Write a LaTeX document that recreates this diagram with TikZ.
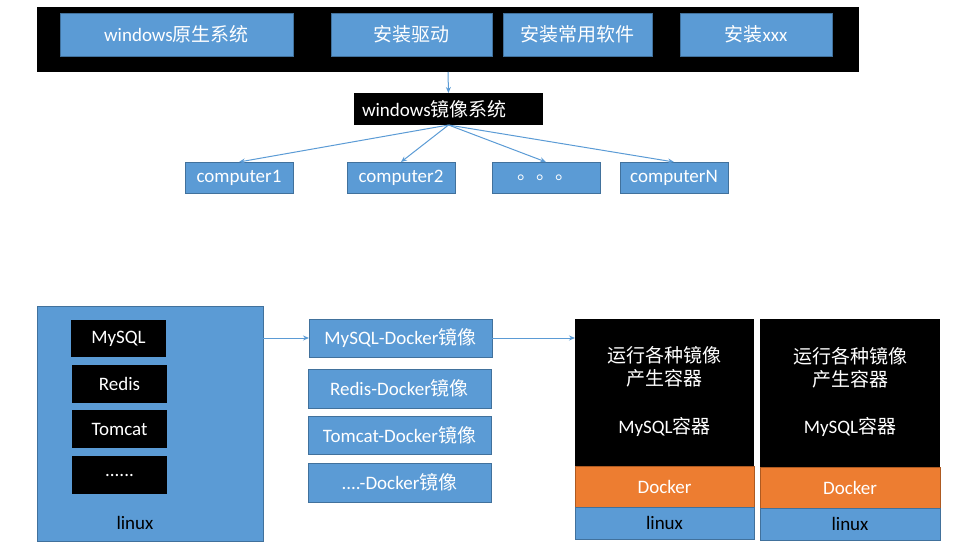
\documentclass[tikz,border=0pt]{standalone}
\usepackage{fontspec}
\setmainfont{Carlito}
\newfontfamily\cjk{Noto Sans CJK SC}
\newcommand{\zh}[1]{{\cjk #1}}
\usetikzlibrary{positioning, calc, arrows.meta}
\definecolor{boxblue}{HTML}{5B9BD5}
\definecolor{boxline}{HTML}{41719C}
\definecolor{dockorange}{HTML}{ED7D31}
\definecolor{dockline}{HTML}{AE5A21}
\tikzset{
  cell/.style={anchor=north west, outer sep=0pt, inner sep=2pt, font=\fontsize{19}{23}\selectfont},
  bluebox/.style={cell, draw=boxline, line width=1pt, fill=boxblue, text=white},
  blackbox/.style={cell, fill=black, text=white},
  orangebox/.style={cell, draw=dockline, line width=1pt, fill=dockorange, text=white},
  caption/.style={inner sep=0pt, font=\fontsize{19}{23}\selectfont, align=center},
  link/.style={draw=boxblue, line width=1pt, -{Stealth[length=6pt,width=5pt]}},
}

\begin{document}
\begin{tikzpicture}[x=1pt, y=-1pt]
    \useasboundingbox (0,0) rectangle (959,550);

    % Top band: the original windows install
    \node[blackbox, minimum width=822pt, minimum height=65pt] (band) at (37,7) {};
    \node[bluebox, minimum width=233pt, minimum height=43pt] (native) at (60,13) {windows\zh{原生系统}};
    \node[bluebox, minimum width=161pt, minimum height=43pt] (driver) at (331,13) {\zh{安装驱动}};
    \node[bluebox, minimum width=149pt, minimum height=43pt] (software) at (503,13) {\zh{安装常用软件}};
    \node[bluebox, minimum width=152pt, minimum height=43pt] (extra) at (680,13) {\zh{安装}xxx};

    % Windows image
    \node[blackbox, minimum height=32pt, text width=173pt, inner xsep=8pt, align=left] (mirror) at (354,93) {windows\zh{镜像系统}};
    \draw[link] (band.south) -- (mirror.north);

    % Computers cloned from the image
    \node[bluebox, minimum width=108pt, minimum height=31pt] (pc1) at (185,162) {computer1};
    \node[bluebox, minimum width=108pt, minimum height=31pt] (pc2) at (347,162) {computer2};
    \node[bluebox, minimum width=108pt, minimum height=31pt] (pcdots) at (492,162) {\zh{。。。}};
    \node[bluebox, minimum width=108pt, minimum height=31pt] (pcN) at (620,162) {computerN};
    \draw[link] (mirror.south) -- (pc1.north);
    \draw[link] (mirror.south) -- (pc2.north);
    \draw[link] (mirror.south) -- (pcdots.north);
    \draw[link] (mirror.south) -- (pcN.north);

    % Linux host with its services
    \node[bluebox, minimum width=226pt, minimum height=235pt] (host) at (37,306) {};
    \node[blackbox, minimum width=95pt, minimum height=37pt] (mysql) at (71,320) {MySQL};
    \node[blackbox, minimum width=95pt, minimum height=38pt] (redis) at (72,365) {Redis};
    \node[blackbox, minimum width=95pt, minimum height=38pt] (tomcat) at (72,410) {Tomcat};
    \node[blackbox, minimum width=95pt, minimum height=38pt] (more) at (72,456) {......};
    \node[caption] (hostlabel) at (135,523) {linux};

    % Docker images
    \node[bluebox, minimum width=183pt, minimum height=38pt] (mysqlimg) at (309,319) {MySQL-Docker\zh{镜像}};
    \node[bluebox, minimum width=183pt, minimum height=39pt] (redisimg) at (308,369) {Redis-Docker\zh{镜像}};
    \node[bluebox, minimum width=183pt, minimum height=38pt] (tomcatimg) at (308,416) {Tomcat-Docker\zh{镜像}};
    \node[bluebox, minimum width=183pt, minimum height=39pt] (moreimg) at (308,463) {....-Docker\zh{镜像}};

    % First container stack
    \node[blackbox, minimum width=179pt, minimum height=147pt] (run1) at (575,319) {};
    \node[caption, text=white] (runtext1) at (664.5,367) {\zh{运行各种镜像}\\\zh{产生容器}};
    \node[caption, text=white] (ctext1) at (664.5,427) {MySQL\zh{容器}};
    \node[orangebox, minimum width=179pt, minimum height=41pt] (dock1) at (575,466) {Docker};
    \node[bluebox, text=black, minimum width=179pt, minimum height=32pt] (os1) at (575,507) {linux};

    % Second container stack
    \node[blackbox, minimum width=180pt, minimum height=148pt] (run2) at (760,319) {};
    \node[caption, text=white] (runtext2) at (850,368) {\zh{运行各种镜像}\\\zh{产生容器}};
    \node[caption, text=white] (ctext2) at (850,427) {MySQL\zh{容器}};
    \node[orangebox, minimum width=180pt, minimum height=41pt] (dock2) at (760,467) {Docker};
    \node[bluebox, text=black, minimum width=180pt, minimum height=32pt] (os2) at (760,508) {linux};

    % Flow from host to images to containers
    \draw[link] (host.east |- mysqlimg.west) -- (mysqlimg.west);
    \draw[link] (mysqlimg.east) -- (mysqlimg.east -| run1.west);

\end{tikzpicture}
\end{document}
